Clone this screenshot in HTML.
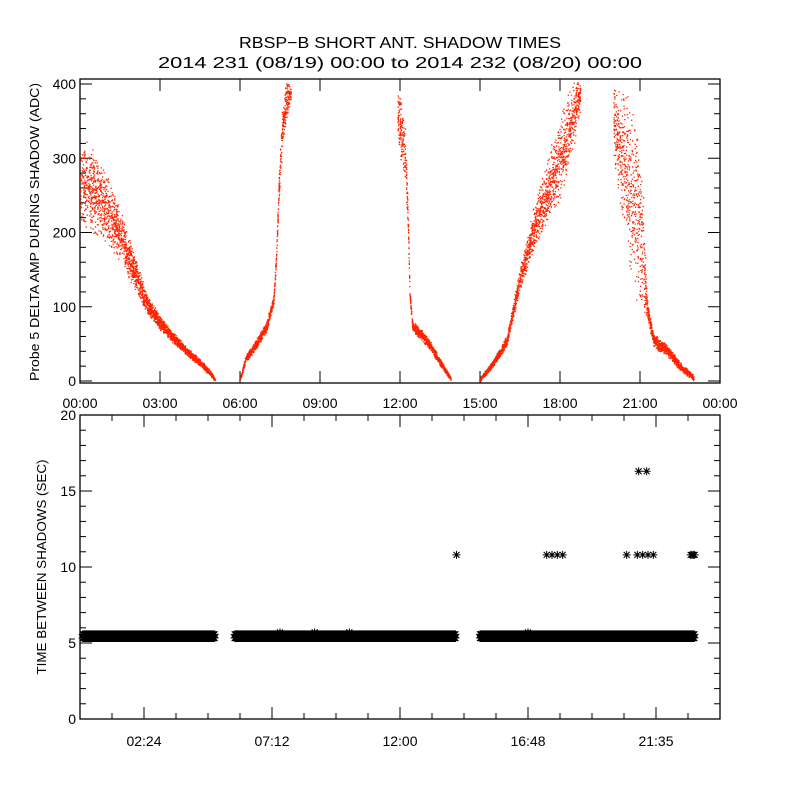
<!DOCTYPE html>
<html><head><meta charset="utf-8"><style>
body{margin:0;background:#fff}
svg text{font-family:"Liberation Sans",sans-serif;fill:#000}
</style></head><body>
<svg id="c" width="800" height="800" viewBox="0 0 800 800" xmlns="http://www.w3.org/2000/svg">
<rect width="800" height="800" fill="#fff"/>
<text x="400" y="48" font-size="16" text-anchor="middle" textLength="322" lengthAdjust="spacingAndGlyphs">RBSP−B SHORT ANT. SHADOW TIMES</text>
<text x="400" y="68" font-size="16" text-anchor="middle" textLength="484" lengthAdjust="spacingAndGlyphs">2014 231 (08/19) 00:00 to 2014 232 (08/20) 00:00</text>
<text transform="translate(39,232) rotate(-90)" font-size="13" text-anchor="middle" textLength="298" lengthAdjust="spacingAndGlyphs">Probe 5 DELTA AMP DURING SHADOW (ADC)</text>
<text transform="translate(46,567) rotate(-90)" font-size="13" text-anchor="middle" textLength="215" lengthAdjust="spacingAndGlyphs">TIME BETWEEN SHADOWS (SEC)</text>
<g id="topPanel"></g>
<g id="botPanel"></g>
</svg>
<script>
// ---- data ----
const topXTicks = ["00:00","03:00","06:00","09:00","12:00","15:00","18:00","21:00","00:00"];
const topYTicks = [0,100,200,300,400];
const botXTickHours = [2.4,7.2,12,16.8,21.6];
const botXTicks = ["02:24","07:12","12:00","16:48","21:35"];
const botYTicks = [0,5,10,15,20];
// amplitude trend segments: [hour, center ADC, spread]
const seg1 = [[0,270,65],[0.5,255,60],[1,235,50],[1.5,195,38],[2,150,25],[2.5,105,15],[3,78,10],[3.5,58,8],[4,40,6],[4.5,25,5],[4.9,10,4],[5.05,2,2]];
const seg2 = [[6.0,3,3],[6.2,30,5],[6.6,50,7],[7.0,75,8],[7.25,110,8],[7.35,170,10],[7.45,260,25],[7.55,330,35],[7.7,375,30],[7.9,390,15]];
const seg3 = [[11.9,360,45],[12.2,300,45],[12.3,200,15],[12.35,120,6],[12.45,75,8],[12.8,62,8],[13.1,50,7],[13.5,25,5],[13.9,3,3]];
const seg4 = [[15.0,3,3],[15.5,25,5],[16.0,55,8],[16.2,90,12],[16.5,140,18],[17.0,205,30],[17.5,255,45],[18.0,300,60],[18.4,350,55],[18.75,385,25]];
const seg5 = [[20.0,350,50],[20.4,290,110],[20.8,240,130],[21.1,180,90],[21.25,100,15],[21.5,55,10],[22.0,42,8],[22.5,20,6],[23.0,5,4]];
// time between shadows
const bandSegments = [[0.1,5.05],[5.8,14.1],[15.0,23.05]];
const bandValue = 5.45;
const out10Hours = [14.12,17.5,17.7,17.9,18.1,20.5,20.9,21.1,21.3,21.5,22.9,22.95,23.0,23.05];
const out10Value = 10.8;
const out16Hours = [20.95,21.25];
const out16Value = 16.3;
const out57Hours = [7.5,8.8,10.1,16.8];
const out57Value = 5.7;

// ---- axes ----
const NS="http://www.w3.org/2000/svg";
const X0=80,X1=720;
const tx=h=>X0+(X1-X0)*h/24;
const ty=v=>381-(v/400)*297;
const by=v=>719-(v/20)*304;
function el(p,tag,a){const e=document.createElementNS(NS,tag);for(const k in a)e.setAttribute(k,a[k]);p.appendChild(e);return e;}
const gT=document.getElementById('topPanel'),gBt=document.getElementById('botPanel');
let r;
r=el(gT,'rect',{x:X0,y:79,width:640,height:304,fill:'none',stroke:'#000','stroke-width':1.3});


r=el(gBt,'rect',{x:X0,y:415,width:640,height:304,fill:'none',stroke:'#000','stroke-width':1.3});


for(let i=0;i<topXTicks.length;i++){const x=tx(i*3);
 el(gT,'line',{x1:x,x2:x,y1:383,y2:371,stroke:'#000'});el(gT,'line',{x1:x,x2:x,y1:79,y2:91,stroke:'#000'});
 const t=el(gT,'text',{x:x,y:408,'font-size':14,'text-anchor':'middle'});t.textContent=topXTicks[i];
 
 }
for(let v=0;v<=400;v+=20){const y=ty(v),L=v%100==0?12:6;
 el(gT,'line',{x1:X0,x2:X0+L,y1:y,y2:y,stroke:'#000'});el(gT,'line',{x1:X1,x2:X1-L,y1:y,y2:y,stroke:'#000'});}
topYTicks.forEach(v=>{const t=el(gT,'text',{x:76,y:ty(v)+5,'font-size':14,'text-anchor':'end'});t.textContent=v;
 
 });
for(let k=1;k<20;k++){const x=tx(k*1.2);const L=((k-2)%4==0)?12:6;
 el(gBt,'line',{x1:x,x2:x,y1:719,y2:719-L,stroke:'#000'});el(gBt,'line',{x1:x,x2:x,y1:415,y2:415+L,stroke:'#000'});}
botXTickHours.forEach((h,i)=>{const t=el(gBt,'text',{x:tx(h),y:746,'font-size':14,'text-anchor':'middle'});t.textContent=botXTicks[i];
 
 });
for(let v=0;v<=20;v++){const y=by(v),L=v%5==0?12:6;
 el(gBt,'line',{x1:X0,x2:X0+L,y1:y,y2:y,stroke:'#000'});el(gBt,'line',{x1:X1,x2:X1-L,y1:y,y2:y,stroke:'#000'});}
botYTicks.forEach(v=>{const t=el(gBt,'text',{x:76,y:by(v)+5,'font-size':14,'text-anchor':'end'});t.textContent=v;
 
 });

// ---- top scatter ----
let seed=12345;const rnd=()=>{seed=(seed*1103515245+12345)%2147483648;return seed/2147483648;};
const gTop=el(gT,'g',{fill:'#ff2200'});


let d='';
[seg1,seg2,seg3,seg4,seg5].forEach(seg=>{
 for(let i=0;i<seg.length-1;i++){const a=seg[i],b=seg[i+1];const n=Math.max(15,Math.round((b[0]-a[0])*480));
  for(let j=0;j<n;j++){const f=rnd();const h=a[0]+(b[0]-a[0])*f;const c=a[1]+(b[1]-a[1])*f,s=a[2]+(b[2]-a[2])*f;
   let v=c+(rnd()+rnd()-1)*s;if(v>405)continue;if(v<-2)v=-2;
   d+='M'+tx(h).toFixed(1)+','+ty(v).toFixed(1)+'h1.3v1.3h-1.3z';}}
});
const p=el(gTop,'path',{d:d});



// ---- bottom asterisks ----
const gB=el(gBt,'g',{stroke:'#000','stroke-width':1,fill:'none'});


let d2='';
const star=(h,v)=>{const x=tx(h),y=by(v);d2+=`M${x-4},${y}h8M${x},${y-4}v8M${x-3},${y-3}l6,6M${x-3},${y+3}l6,-6`;};
bandSegments.forEach(s=>{for(let h=s[0];h<=s[1];h+=0.03){star(h,bandValue-0.12);star(h,bandValue+0.12);}});
out10Hours.forEach(h=>star(h,out10Value));
out16Hours.forEach(h=>star(h,out16Value));
out57Hours.forEach(h=>star(h,out57Value));
const p2=el(gB,'path',{d:d2});


</script>
</body></html>
